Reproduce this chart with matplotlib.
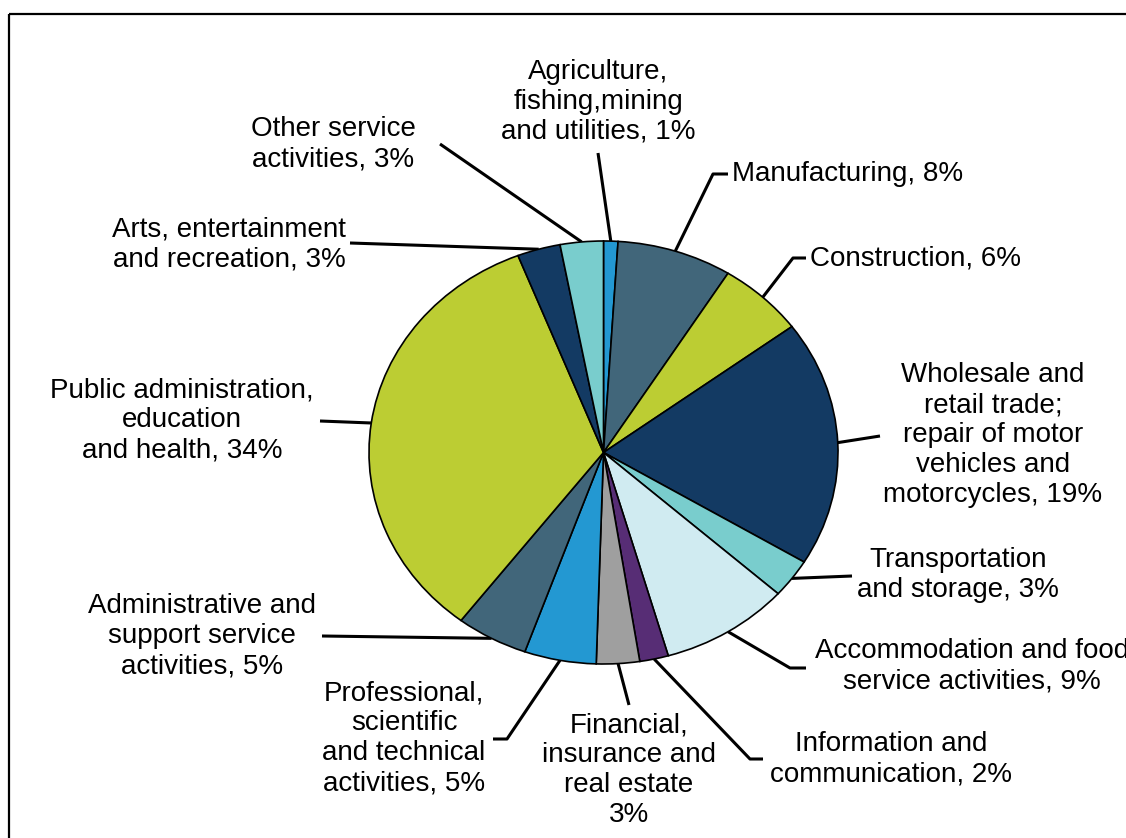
import matplotlib.pyplot as plt
from matplotlib.patches import Rectangle
import numpy as np

plt.rcParams['font.family'] = ['Liberation Sans', 'DejaVu Sans']

sectors = [
    "Agriculture,\nfishing,mining\nand utilities, 1%",
    "Manufacturing, 8%",
    "Construction, 6%",
    "Wholesale and\nretail trade;\nrepair of motor\nvehicles and\nmotorcycles, 19%",
    "Transportation\nand storage, 3%",
    "Accommodation and food\nservice activities, 9%",
    "Information and\ncommunication, 2%",
    "Financial,\ninsurance and\nreal estate\n3%",
    "Professional,\nscientific\nand technical\nactivities, 5%",
    "Administrative and\nsupport service\nactivities, 5%",
    "Public administration,\neducation\nand health, 34%",
    "Arts, entertainment\nand recreation, 3%",
    "Other service\nactivities, 3%",
]
shares = [1, 8, 6, 19, 3, 9, 2, 3, 5, 5, 34, 3, 3]
colors = ["#2398d2", "#41667a", "#bccd33", "#133a63", "#79cdcd", "#d0ebf1",
          "#572d75", "#9f9f9f", "#2398d2", "#41667a", "#bccd33", "#133a63",
          "#79cdcd"]

# label layout in pixels: leader-line bend points, text anchor, alignment
layout = [
    ([(598, 153)], (598, 102), 'center'),
    ([(713, 174), (728, 174)], (732, 174), 'left'),
    ([(793, 258), (806, 258)], (810, 258), 'left'),
    ([(880, 436)], (993, 435), 'center'),
    ([(852, 576)], (958, 575), 'center'),
    ([(790, 668), (806, 668)], (972, 666), 'center'),
    ([(750, 759), (763, 759)], (891, 759), 'center'),
    ([(629, 705)], (629, 770), 'center'),
    ([(507, 739), (493, 739)], (404, 738), 'center'),
    ([(322, 636)], (202, 636), 'center'),
    ([(320, 421)], (182, 420), 'center'),
    ([(350, 243)], (229, 244), 'center'),
    ([(440, 144)], (333, 144), 'center'),
]

W, H = 1126, 838
fig = plt.figure(figsize=(W / 100, H / 100), dpi=100)

over = fig.add_axes([0, 0, 1, 1])
over.set_xlim(0, W)
over.set_ylim(H, 0)
over.axis('off')

cx, cy, rx, ry = 603.5, 452.5, 234.5, 211.5
pie_ax = fig.add_axes([(cx - rx) / W, (H - cy - ry) / H, 2 * rx / W, 2 * ry / H])
wedges, _ = pie_ax.pie(shares, colors=colors, startangle=90, counterclock=False,
                       radius=1, wedgeprops=dict(edgecolor='black', linewidth=1.2))
pie_ax.set_aspect('auto')
pie_ax.set_xlim(-1, 1)
pie_ax.set_ylim(-1, 1)

to_px = pie_ax.transData + over.transData.inverted()
for w, label, (bends, (tx, ty), ha) in zip(wedges, sectors, layout):
    mid = np.deg2rad((w.theta1 + w.theta2) / 2)
    ax0, ay0 = to_px.transform((np.cos(mid), np.sin(mid)))
    xs = [ax0] + [p[0] for p in bends]
    ys = [ay0] + [p[1] for p in bends]
    over.plot(xs, ys, color='black', lw=2.2, solid_capstyle='butt', zorder=3)
    over.text(tx, ty, label, ha=ha, va='center', multialignment='center',
              fontsize=20, linespacing=1.2, color='black')

# outer frame, running off the right and bottom edges
over.add_patch(Rectangle((8.5, 14.5), W, H, fill=False, edgecolor='black',
                         lw=1.6, clip_on=False))

fig.savefig('out.png', dpi=100)
